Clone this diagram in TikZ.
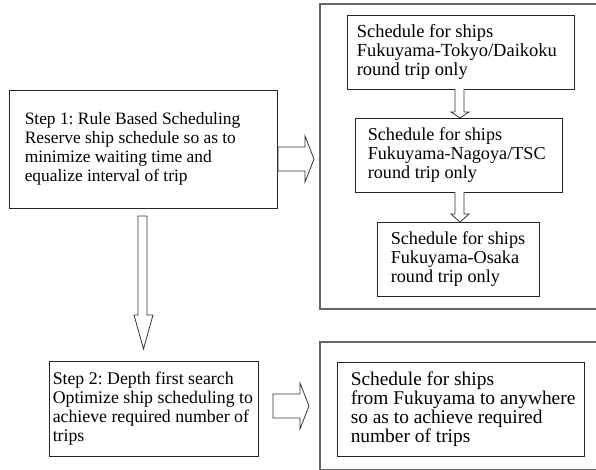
\documentclass[tikz,border=0pt]{standalone}
\usepackage{fontspec}
\setmainfont{Liberation Serif}
\frenchspacing
\begin{document}
\begin{tikzpicture}[x=1pt,y=-1pt,
  boxtext/.style={font=\fontsize{#1}{19}\selectfont, align=left, anchor=west, inner sep=0pt},
  boxtext/.default=18.2,
  stepbox/.style={draw=black!85, line width=0.9pt, inner sep=0pt},
  groupbox/.style={draw=black!60, line width=1.2pt},
  blockarrow/.style={draw=black!80, line width=0.8pt, fill=white, line join=miter}]
\useasboundingbox (0,0) rectangle (596,470);

% outer group frames (their right sides run off the page)
\draw[groupbox] (598,4) -- (320,4) -- (320,309) -- (598,309);
\draw[groupbox] (598,342) -- (320,342) -- (320,469.5) -- (598,469.5);

% step boxes
\node[stepbox, minimum width=268, minimum height=118] (s1) at (143,149) {};
\node[boxtext=17.4] (s1t) at ([xshift=16pt]s1.west)
  {Step 1: Rule Based Scheduling\\Reserve ship schedule so as to\\minimize waiting time and\\equalize interval of trip};
\node[stepbox, minimum width=209, minimum height=95] (s2) at (153.5,408.5) {};
\node[boxtext=17.8] (s2t) at ([xshift=4pt]s2.west)
  {Step 2: Depth first search\\Optimize ship scheduling to\\achieve required number of\\trips};

% schedule boxes
\node[stepbox, minimum width=227, minimum height=74] (a) at (460.5,52) {};
\node[boxtext=18.5] (at) at ([xshift=10pt]a.west)
  {Schedule for ships\\Fukuyama-Tokyo/Daikoku\\round trip only};
\node[stepbox, minimum width=207, minimum height=74] (b) at (458.5,155) {};
\node[boxtext] (bt) at ([xshift=13pt]b.west)
  {Schedule for ships\\Fukuyama-Nagoya/TSC\\round trip only};
\node[stepbox, minimum width=162, minimum height=74] (c) at (458,259) {};
\node[boxtext] (ct) at ([xshift=14pt]c.west)
  {Schedule for ships\\Fukuyama-Osaka\\round trip only};
\node[stepbox, minimum width=247, minimum height=94] (d) at (460.5,409) {};
\node[boxtext=19.4] (dt) at ([xshift=14pt]d.west)
  {Schedule for ships\\from Fukuyama to anywhere\\so as to achieve required\\number of trips};

% block arrows
\draw[blockarrow] (278,147) -- (305,147) -- (305,136) -- (314,159) -- (305,182)
  -- (305,171) -- (278,171) -- cycle;
\draw[blockarrow] (273,394) -- (300,394) -- (300,383) -- (309,406) -- (300,429)
  -- (300,418) -- (273,418) -- cycle;
\draw[blockarrow] (138,216) -- (138,315) -- (134,315) -- (143.5,349) -- (153,315)
  -- (147,315) -- (147,216) -- cycle;
\draw[blockarrow] (455,89) -- (455,112) -- (451,112) -- (460,118) -- (469,112)
  -- (464,112) -- (464,89);
\draw[blockarrow] (455,192) -- (455,214) -- (451,214) -- (460,222) -- (469,214)
  -- (464,214) -- (464,192);
\end{tikzpicture}
\end{document}
